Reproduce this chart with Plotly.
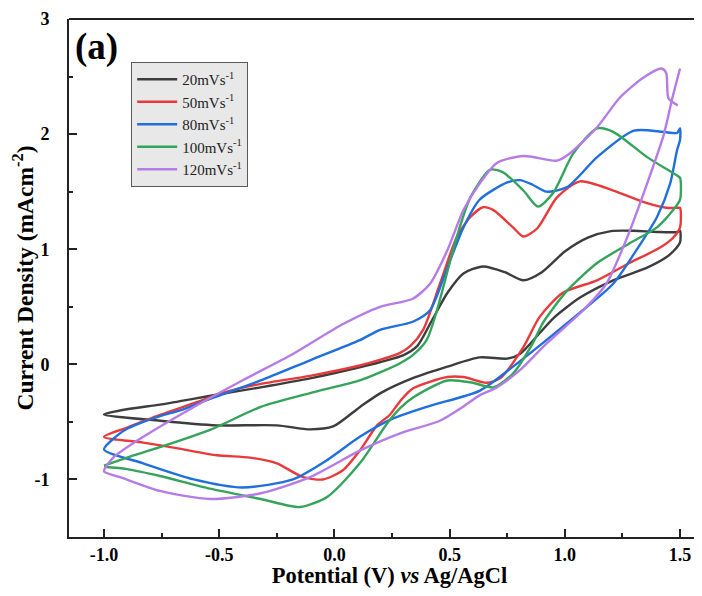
import plotly.graph_objects as go

# cyclic voltammograms (potential V, current density mA/cm2)
# each loop: forward sweep -1.0 -> 1.5, then reverse sweep 1.5 -> -1.0
v20 = [-1.0, -0.9, -0.757, -0.613, -0.5, -0.32, -0.1, 0.1, 0.2, 0.3, 0.36, 0.42, 0.49, 0.56, 0.645,
       0.74, 0.82, 0.9, 1.0, 1.1, 1.2, 1.3, 1.4, 1.49,
       1.5, 1.5, 1.47, 1.44, 1.357, 1.21, 1.066, 0.95, 0.89, 0.805, 0.75, 0.63, 0.49, 0.34, 0.2,
       0.111, -0.006, -0.106, -0.25, -0.51, -0.757, -1.0]
i20 = [-0.435, -0.39, -0.35, -0.30, -0.26, -0.2, -0.12, -0.03, 0.02, 0.08, 0.16, 0.37, 0.62, 0.79, 0.85,
       0.80, 0.73, 0.80, 0.98, 1.10, 1.157, 1.16, 1.15, 1.15,
       1.16, 1.06, 0.98, 0.93, 0.84, 0.73, 0.58, 0.40, 0.27, 0.09, 0.05, 0.06, -0.02, -0.12, -0.25,
       -0.37, -0.54, -0.565, -0.53, -0.53, -0.49, -0.435]

v50 = [-1.0, -0.9, -0.757, -0.613, -0.47, -0.32, -0.106, 0.11, 0.2, 0.285, 0.33, 0.385, 0.458, 0.53,
       0.59, 0.645, 0.69, 0.775, 0.82, 0.88, 0.966, 1.066, 1.21, 1.357, 1.44, 1.49,
       1.5, 1.5, 1.47, 1.41, 1.28, 1.14, 0.99, 0.89, 0.82, 0.72, 0.66, 0.56, 0.49, 0.34, 0.285, 0.24,
       0.185, 0.11, 0.037, -0.05, -0.136, -0.25, -0.366, -0.51, -0.68, -0.83, -1.0]
i50 = [-0.63, -0.55, -0.44, -0.34, -0.24, -0.17, -0.10, -0.01, 0.04, 0.10, 0.16, 0.30, 0.70, 1.10,
       1.28, 1.365, 1.34, 1.19, 1.11, 1.18, 1.45, 1.59, 1.51, 1.40, 1.36, 1.36,
       1.36, 1.19, 1.10, 1.01, 0.88, 0.73, 0.62, 0.41, 0.15, -0.12, -0.16, -0.11, -0.11, -0.21, -0.32, -0.44,
       -0.53, -0.75, -0.92, -1.0, -0.98, -0.86, -0.81, -0.79, -0.73, -0.68, -0.63]

v80 = [-1.0, -0.95, -0.9, -0.757, -0.67, -0.54, -0.32, -0.106, 0.11, 0.198, 0.34, 0.415, 0.49, 0.56,
       0.63, 0.75, 0.805, 0.86, 0.92, 1.01, 1.14, 1.30, 1.426, 1.487, 1.5,
       1.5, 1.487, 1.457, 1.40, 1.31, 1.21, 1.066, 0.92, 0.775, 0.63, 0.415, 0.255, 0.11, -0.03, -0.18,
       -0.40, -0.61, -0.83, -1.0]
i80 = [-0.74, -0.63, -0.56, -0.45, -0.40, -0.30, -0.14, 0.035, 0.21, 0.30, 0.37, 0.47, 0.84, 1.19,
       1.43, 1.58, 1.60, 1.56, 1.50, 1.54, 1.80, 2.03, 2.02, 2.01, 2.05,
       1.95, 1.86, 1.57, 1.28, 0.99, 0.70, 0.45, 0.21, -0.02, -0.23, -0.36, -0.47, -0.63, -0.83, -1.0,
       -1.07, -1.0, -0.86, -0.74]

v100 = [-1.0, -0.9, -0.757, -0.54, -0.32, -0.106, 0.11, 0.198, 0.285, 0.34, 0.40, 0.445, 0.53, 0.59,
        0.675, 0.73, 0.82, 0.884, 0.95, 1.036, 1.14, 1.21, 1.357, 1.487, 1.5,
        1.5, 1.47, 1.40, 1.28, 1.14, 1.01, 0.905, 0.86, 0.775, 0.69, 0.60, 0.49, 0.34, 0.285, 0.23, 0.11,
        -0.03, -0.15, -0.32, -0.54, -0.757, -0.9, -1.0]
i100 = [-0.88, -0.81, -0.72, -0.57, -0.37, -0.25, -0.14, -0.07, 0.01, 0.08, 0.21, 0.47, 1.10, 1.45,
        1.69, 1.67, 1.51, 1.37, 1.49, 1.83, 2.05, 2.02, 1.80, 1.64, 1.62,
        1.43, 1.34, 1.19, 1.05, 0.88, 0.64, 0.36, 0.18, -0.08, -0.20, -0.16, -0.14, -0.29, -0.38, -0.51, -0.86,
        -1.15, -1.24, -1.17, -1.08, -0.97, -0.91, -0.89]

# 120 mV/s trace starts at the top right, runs the reverse sweep first
v120 = [1.5, 1.465, 1.43, 1.357, 1.27, 1.18, 1.08, 0.92, 0.805, 0.705, 0.63, 0.55, 0.458, 0.285, 0.11,
        -0.106, -0.32, -0.54, -0.757, -0.93, -1.0,
        -0.96, -0.83, -0.61, -0.40, -0.18, 0.037, 0.198, 0.34, 0.415, 0.49, 0.56, 0.63, 0.705, 0.82,
        0.966, 1.02, 1.14, 1.24, 1.34, 1.42, 1.44, 1.45, 1.49]
i120 = [2.57, 2.30, 2.0, 1.57, 1.10, 0.70, 0.47, 0.18, -0.05, -0.20, -0.27, -0.38, -0.49, -0.60, -0.75,
        -0.98, -1.12, -1.17, -1.10, -0.98, -0.93,
        -0.81, -0.63, -0.37, -0.14, 0.09, 0.35, 0.50, 0.57, 0.70, 0.99, 1.34, 1.57, 1.75, 1.81,
        1.77, 1.83, 2.06, 2.32, 2.49, 2.57, 2.53, 2.31, 2.25]

series = [
    ("20mVs<sup>-1</sup>", v20, i20, "#3d3d3d"),
    ("50mVs<sup>-1</sup>", v50, i50, "#e8393b"),
    ("80mVs<sup>-1</sup>", v80, i80, "#1f6fdc"),
    ("100mVs<sup>-1</sup>", v100, i100, "#35a35b"),
    ("120mVs<sup>-1</sup>", v120, i120, "#b57ce6"),
]

serif = "Liberation Serif"

fig = go.Figure()
for name, v, i, color in series:
    fig.add_trace(go.Scatter(
        x=v, y=i, mode="lines", name=name,
        line=dict(color=color, width=2.4, shape="spline", smoothing=0.7),
    ))

# page body is offset by 8px; the plot runs past the right edge of the window
# so its right-hand frame is cropped off, as in the reference
fig.update_layout(
    width=702, height=580,
    margin=dict(l=61, r=0, t=11, b=51),
    plot_bgcolor="white", paper_bgcolor="white",
    font=dict(family=serif, color="black"),
    legend=dict(
        x=0.097, y=0.917, xanchor="left", yanchor="top",
        bgcolor="#e8e8e8", bordercolor="#5a5a5a", borderwidth=1,
        font=dict(family=serif, size=15, color="#222"),
        itemwidth=40, tracegroupgap=0,
    ),
    annotations=[dict(
        text="<b>(a)</b>", xref="paper", yref="paper", x=0.006, y=0.99,
        xanchor="left", yanchor="top", showarrow=False,
        font=dict(family=serif, size=37, color="black"),
    )],
    shapes=[dict(type="line", xref="paper", yref="paper", x0=0, x1=1, y0=1, y1=1,
                 line=dict(color="#222", width=1.8))],
)

fig.update_xaxes(
    range=[-1.152, 1.630], automargin=False,
    tickvals=[-1.0, -0.5, 0.0, 0.5, 1.0, 1.5],
    ticktext=["<b>-1.0</b>", "<b>-0.5</b>", "<b>0.0</b>", "<b>0.5</b>", "<b>1.0</b>", "<b>1.5</b>"],
    ticks="inside", ticklen=8, tickwidth=1.5, tickcolor="#222",
    minor=dict(ticks="inside", ticklen=4, tickwidth=1.5, tickcolor="#222", dtick=0.25, tick0=0),
    showline=True, linecolor="#222", linewidth=1.8, mirror=False,
    showgrid=False, zeroline=False,
    tickfont=dict(family=serif, size=18),
    title=dict(text="<b>Potential (V) <i>vs</i> Ag/AgCl</b>", font=dict(family=serif, size=22.5), standoff=5),
)
fig.update_yaxes(
    range=[-1.5, 3.0], automargin=False,
    tickvals=[-1, 0, 1, 2, 3],
    ticktext=["<b>-1</b>", "<b>0</b>", "<b>1</b>", "<b>2</b>", "<b>3</b>"],
    ticks="inside", ticklen=8, tickwidth=1.5, tickcolor="#222",
    minor=dict(ticks="inside", ticklen=4, tickwidth=1.5, tickcolor="#222", dtick=0.5, tick0=0),
    showline=True, linecolor="#222", linewidth=1.8, mirror=False,
    showgrid=False, zeroline=False,
    ticklabelstandoff=14,
    tickfont=dict(family=serif, size=18),
    title=dict(text="<b>Current Density (mAcm<sup>-2</sup>)</b>", font=dict(family=serif, size=23.5), standoff=3),
)

fig.write_html("out.html")
